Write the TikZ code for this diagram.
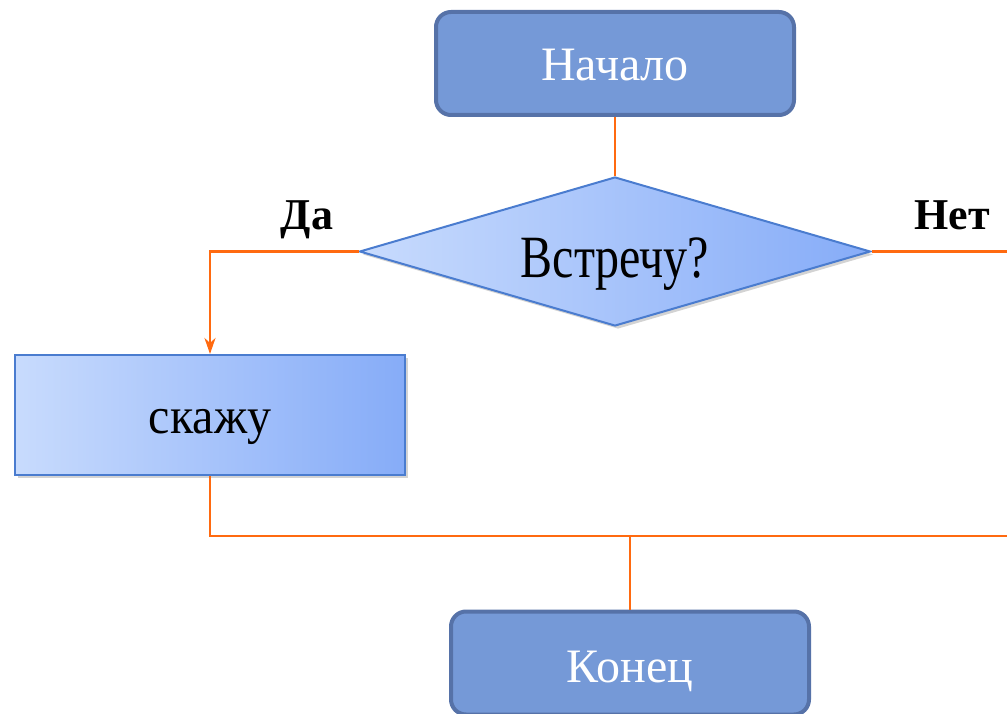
\documentclass[tikz,border=0pt]{standalone}
\usepackage{fontspec}
\setmainfont{Liberation Serif}
\usetikzlibrary{shapes.geometric,arrows.meta,shadows}
\definecolor{termfill}{HTML}{7599D7}
\definecolor{termdraw}{HTML}{5672A8}
\definecolor{procdraw}{HTML}{4A7CCF}
\definecolor{gradL}{HTML}{C8DBFD}
\definecolor{gradR}{HTML}{86ACF8}
\definecolor{connc}{HTML}{FF6A10}
\tikzset{
  term/.style={draw=termdraw, fill=termfill, line width=4pt, rounded corners=15pt,
    minimum width=358pt, minimum height=103pt, inner sep=0pt, text=white,
    font=\fontsize{48}{52}\selectfont, text depth=0pt},
  proc/.style={draw=procdraw, line width=2pt, left color=gradL, right color=gradR,
    minimum width=390pt, minimum height=120pt, inner sep=0pt,
    drop shadow={opacity=0.35, shadow xshift=3pt, shadow yshift=-3pt},
    font=\fontsize{48}{52}\selectfont, text depth=0pt},
  decis/.style={diamond, aspect=3.43, draw=procdraw, line width=2pt, left color=gradL, right color=gradR,
    minimum width=511pt, minimum height=149pt, inner sep=0pt,
    drop shadow={opacity=0.35, shadow xshift=3pt, shadow yshift=-3pt},
    font=\fontsize{48}{52}\selectfont, text depth=0pt},
  conn/.style={draw=connc, line width=2.5pt},
  lbl/.style={font=\fontsize{44}{48}\selectfont\bfseries, inner sep=0pt, text depth=0pt, text height=28pt},
}
\begin{document}
\begin{tikzpicture}[x=1pt,y=-1pt]
\useasboundingbox (0,0) rectangle (1007,714);
\clip (0,0) rectangle (1007,714);
\node[term, text height=35pt] (start) at (615,63.5) {Начало};
\node[decis, text height=51pt] (dec) at (615,251.5) {\scalebox{1}[1.25]{Встречу?}};
\node[proc, text height=36pt] (say) at (210,415) {\scalebox{1}[1.07]{скажу}};
\node[term, text height=38pt] (stop) at (630,663) {Конец};
\node[lbl] (yes) at (307,216) {Да};
\node[lbl] (no) at (952,216) {Нет};
\coordinate (rightout) at (1012,251.5);
\coordinate (joinR) at (1012,536);
\coordinate (join) at (630,536);
\draw[conn] (start.south) -- (dec.north);
\draw[conn,-{Stealth[length=16pt,width=11pt,inset=5pt]}] (dec.west) -| (say.north);
\draw[conn] (dec.east) -- (rightout);
\draw[conn] (say.south) |- (joinR);
\draw[conn] (join) -- (stop.north);
\end{tikzpicture}
\end{document}
